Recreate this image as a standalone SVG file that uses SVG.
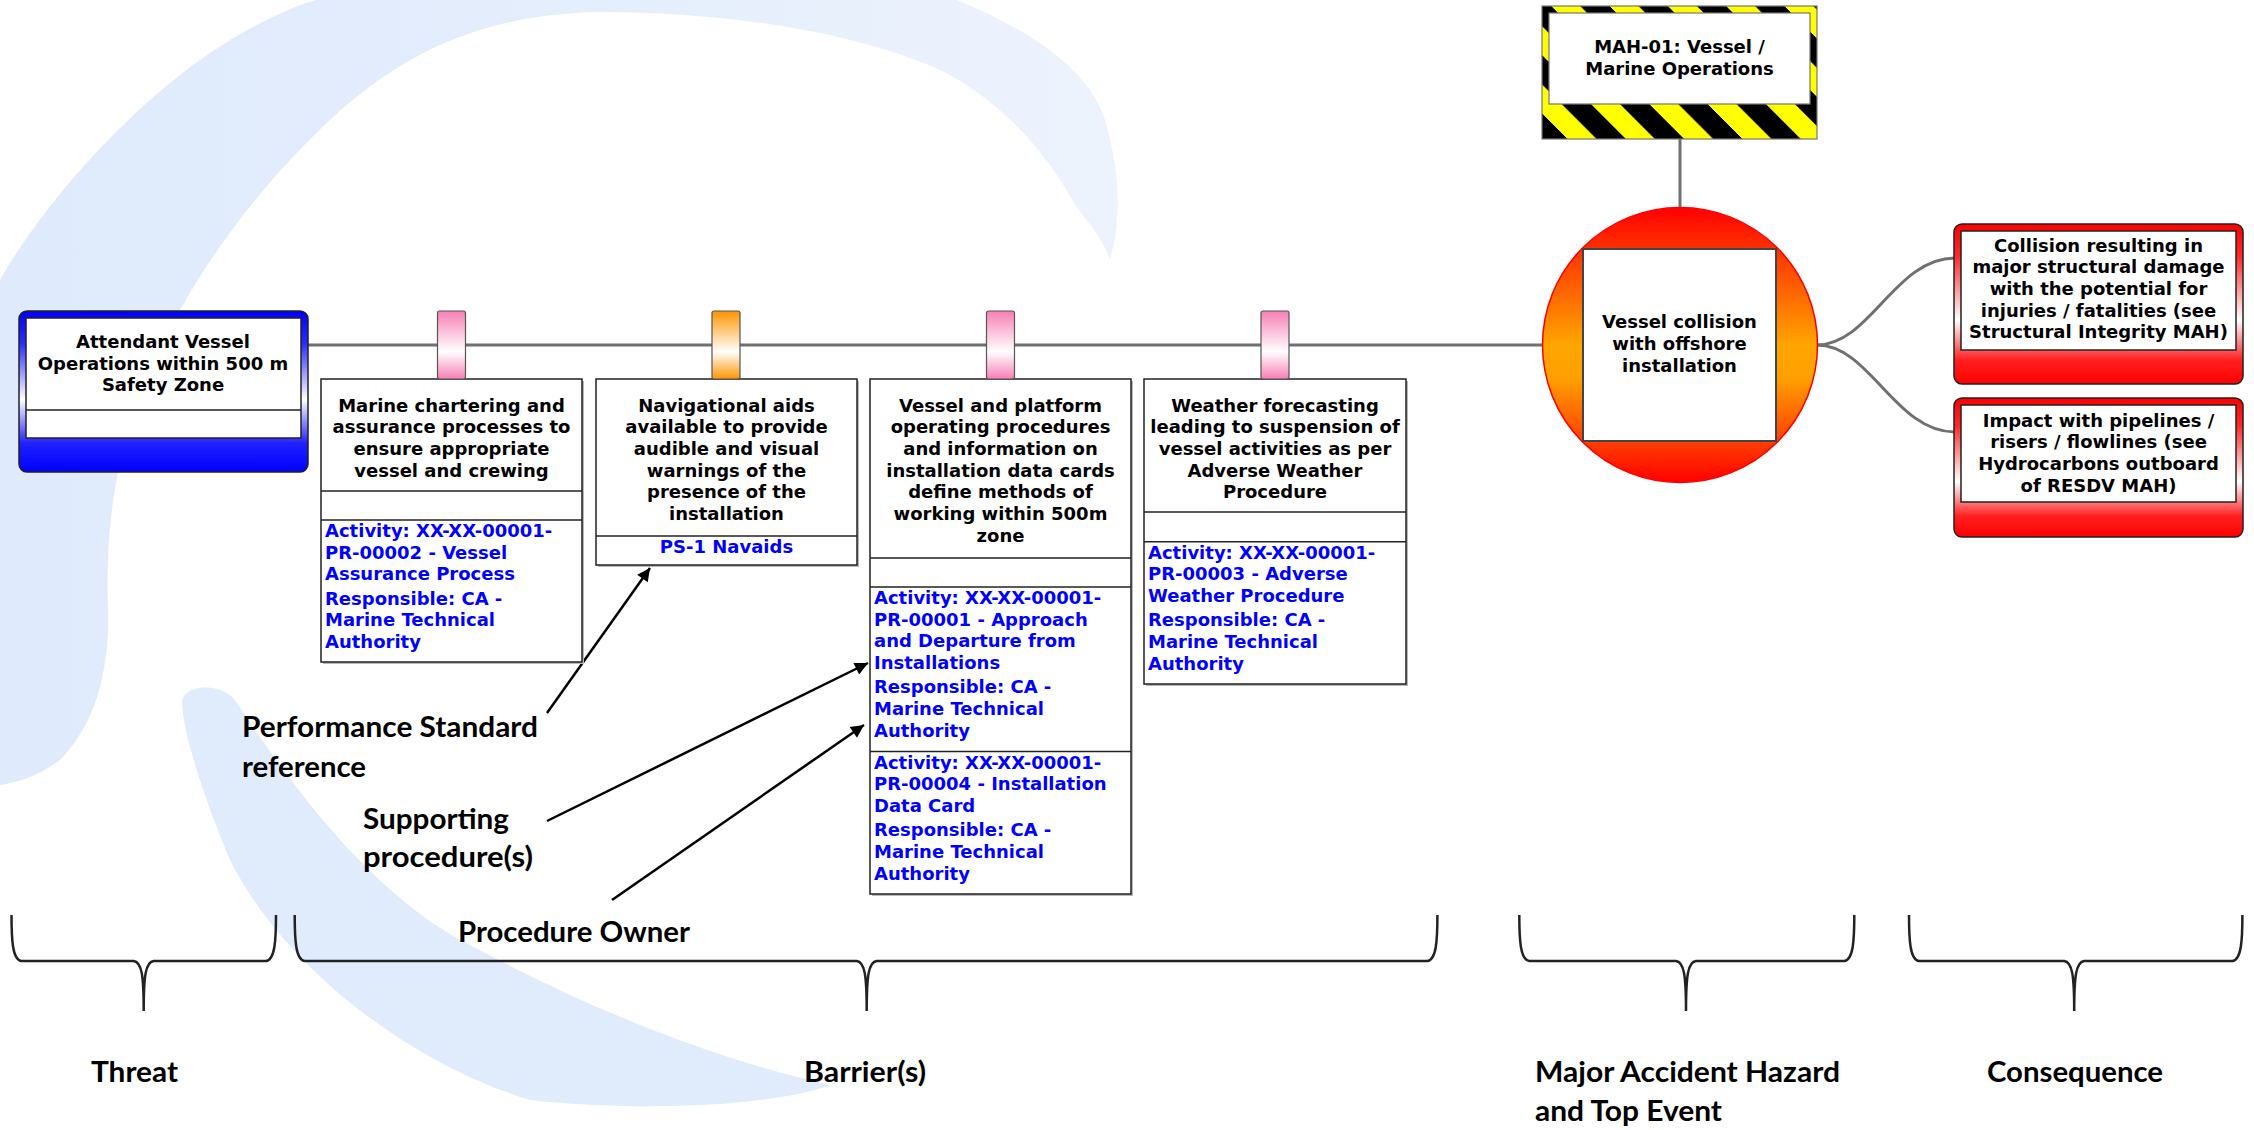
<svg xmlns="http://www.w3.org/2000/svg" width="2254" height="1130" viewBox="0 0 2254 1130">
<style>
.t{font-family:"DejaVu Sans",Verdana,sans-serif;font-weight:bold;font-size:18px;fill:#000;text-anchor:middle}
.b{font-family:"DejaVu Sans",Verdana,sans-serif;font-weight:bold;font-size:18px;fill:#0000ff}
.lbl{font-family:Lato,"Liberation Sans",sans-serif;font-weight:bold;font-size:29px;fill:#000}
.box{fill:#fff;stroke:#222;stroke-width:1.5}
.shadow{fill:#b8b8b8}
.conn{stroke:#707070;stroke-width:3;fill:none}
.arrow{stroke:#000;stroke-width:2.5;fill:none;marker-end:url(#ah)}
.brace{stroke:#222;stroke-width:2.5;fill:none}
.tag{stroke:#555;stroke-width:1.2}
</style>
<defs>
<linearGradient id="gBlue" x1="0" y1="0" x2="0" y2="1">
<stop offset="0" stop-color="#0000ff"/><stop offset="0.2" stop-color="#2a2aff"/><stop offset="0.55" stop-color="#ffffff"/><stop offset="0.82" stop-color="#2020ff"/><stop offset="1" stop-color="#0000ff"/>
</linearGradient>
<linearGradient id="gRed" x1="0" y1="0" x2="0" y2="1">
<stop offset="0" stop-color="#ff0000"/><stop offset="0.2" stop-color="#ff2a2a"/><stop offset="0.6" stop-color="#ffffff"/><stop offset="0.85" stop-color="#ff2020"/><stop offset="1" stop-color="#ff0000"/>
</linearGradient>
<linearGradient id="gPink" x1="0" y1="0" x2="0" y2="1">
<stop offset="0" stop-color="#f77fb5"/><stop offset="0.6" stop-color="#ffffff"/><stop offset="1" stop-color="#f77fb5"/>
</linearGradient>
<linearGradient id="gOrange" x1="0" y1="0" x2="0" y2="1">
<stop offset="0" stop-color="#ff9400"/><stop offset="0.6" stop-color="#ffffff"/><stop offset="1" stop-color="#ff9400"/>
</linearGradient>
<linearGradient id="gTop" x1="0" y1="0" x2="0" y2="1">
<stop offset="0" stop-color="#ff0000"/><stop offset="0.5" stop-color="#ffa500"/><stop offset="0.62" stop-color="#ffa000"/><stop offset="1" stop-color="#ff0000"/>
</linearGradient>
<linearGradient id="gWm" gradientUnits="userSpaceOnUse" x1="0" y1="0" x2="1120" y2="0">
<stop offset="0" stop-color="#dfeafc"/><stop offset="0.45" stop-color="#e3edfc"/><stop offset="1" stop-color="#edf3fd"/>
</linearGradient>
<pattern id="hz" patternUnits="userSpaceOnUse" x="29.4" y="0" width="58.3" height="20" patternTransform="skewX(45)">
<rect width="58.3" height="20" fill="#000"/><rect width="29" height="20" fill="#ffff00"/>
</pattern>
<marker id="ah" viewBox="0 0 10 10" refX="10" refY="5" markerUnits="userSpaceOnUse" markerWidth="19" markerHeight="13" orient="auto">
<path d="M0,0 L10,5 L0,10 z" fill="#000"/>
</marker>
</defs>

<rect width="2254" height="1130" fill="#fff"/>

<g id="watermark">
<path fill="url(#gWm)" d="M0,280 C40,210 110,130 180,75 C225,40 275,12 316,0 L957,0 C1030,30 1090,70 1105,120 C1120,170 1122,220 1110,259 C1100,235 1090,225 1075,205 C1040,140 990,95 940,70 C850,30 720,12 600,12 C480,14 400,55 330,120 C250,195 190,280 150,370 C115,450 105,530 108,610 C110,680 90,730 60,760 C40,775 20,782 0,785 Z"/>
<path fill="#e0ebfc" d="M200,688 C215,686 228,692 235,700 C300,800 380,900 470,945 C600,1015 720,1060 830,1085 C760,1110 620,1110 530,1100 C400,1060 280,960 230,860 C205,800 185,740 182,705 C181,695 190,689 200,688 Z"/>
</g>

<g id="connectors">
<line class="conn" x1="308" y1="345" x2="1543" y2="345"/>
<line class="conn" x1="1680" y1="139" x2="1680" y2="207"/>
<path class="conn" d="M1817,345 C1870,345 1895,258 1955,258"/>
<path class="conn" d="M1817,345 C1870,345 1895,432 1955,432"/>
<line class="arrow" x1="547" y1="713" x2="650" y2="568"/>
<line class="arrow" x1="547" y1="821" x2="868" y2="663"/>
<line class="arrow" x1="612" y1="900" x2="864" y2="725"/>
</g>

<g id="threat">
<rect x="19" y="311" width="289" height="161" rx="8" fill="url(#gBlue)" stroke="#222" stroke-width="1.5"/>
<rect x="26" y="318" width="275" height="120" fill="#fff" stroke="#222" stroke-width="1.5"/>
<line x1="26" y1="410" x2="301" y2="410" stroke="#222" stroke-width="1.5"/>
<text class="t" x="163" y="348">Attendant Vessel</text>
<text class="t" x="163" y="369.5">Operations within 500 m</text>
<text class="t" x="163" y="391">Safety Zone</text>
</g>

<g id="barrier1">
<rect class="shadow" x="323" y="381" width="261" height="283"/>
<rect class="box" x="321" y="379" width="261" height="283"/>
<line x1="321" y1="491" x2="582" y2="491" stroke="#222" stroke-width="1.5"/>
<line x1="321" y1="520" x2="582" y2="520" stroke="#222" stroke-width="1.5"/>
<rect class="tag" x="437.5" y="311" width="28" height="68" rx="2" fill="url(#gPink)"/>
<text class="t" x="451.5" y="411.5">Marine chartering and</text>
<text class="t" x="451.5" y="433.2">assurance processes to</text>
<text class="t" x="451.5" y="454.9">ensure appropriate</text>
<text class="t" x="451.5" y="476.6">vessel and crewing</text>
<text class="b" x="325" y="537">Activity: XX-XX-00001-</text>
<text class="b" x="325" y="558.7">PR-00002 - Vessel</text>
<text class="b" x="325" y="580.4">Assurance Process</text>
<text class="b" x="325" y="604.7">Responsible: CA -</text>
<text class="b" x="325" y="626.4">Marine Technical</text>
<text class="b" x="325" y="648.1">Authority</text>
</g>

<g id="barrier2">
<rect class="shadow" x="598" y="381" width="261" height="186"/>
<rect class="box" x="596" y="379" width="261" height="186"/>
<line x1="596" y1="536" x2="857" y2="536" stroke="#222" stroke-width="1.5"/>
<rect class="tag" x="712" y="311" width="28" height="68" rx="2" fill="url(#gOrange)"/>
<text class="t" x="726.5" y="411.5">Navigational aids</text>
<text class="t" x="726.5" y="433.2">available to provide</text>
<text class="t" x="726.5" y="454.9">audible and visual</text>
<text class="t" x="726.5" y="476.6">warnings of the</text>
<text class="t" x="726.5" y="498.3">presence of the</text>
<text class="t" x="726.5" y="520">installation</text>
<text class="b" x="726.5" y="553" text-anchor="middle">PS-1 Navaids</text>
</g>

<g id="barrier3">
<rect class="shadow" x="872" y="381" width="261" height="515"/>
<rect class="box" x="870" y="379" width="261" height="515"/>
<line x1="870" y1="558" x2="1131" y2="558" stroke="#222" stroke-width="1.5"/>
<line x1="870" y1="587" x2="1131" y2="587" stroke="#222" stroke-width="1.5"/>
<line x1="870" y1="751.5" x2="1131" y2="751.5" stroke="#222" stroke-width="1.5"/>
<rect class="tag" x="986.5" y="311" width="28" height="68" rx="2" fill="url(#gPink)"/>
<text class="t" x="1000.5" y="411.5">Vessel and platform</text>
<text class="t" x="1000.5" y="433.2">operating procedures</text>
<text class="t" x="1000.5" y="454.9">and information on</text>
<text class="t" x="1000.5" y="476.6">installation data cards</text>
<text class="t" x="1000.5" y="498.3">define methods of</text>
<text class="t" x="1000.5" y="520">working within 500m</text>
<text class="t" x="1000.5" y="541.7">zone</text>
<text class="b" x="874" y="604">Activity: XX-XX-00001-</text>
<text class="b" x="874" y="625.7">PR-00001 - Approach</text>
<text class="b" x="874" y="647.4">and Departure from</text>
<text class="b" x="874" y="669.1">Installations</text>
<text class="b" x="874" y="693.4">Responsible: CA -</text>
<text class="b" x="874" y="715.1">Marine Technical</text>
<text class="b" x="874" y="736.8">Authority</text>
<text class="b" x="874" y="768.5">Activity: XX-XX-00001-</text>
<text class="b" x="874" y="790.2">PR-00004 - Installation</text>
<text class="b" x="874" y="811.9">Data Card</text>
<text class="b" x="874" y="836.2">Responsible: CA -</text>
<text class="b" x="874" y="857.9">Marine Technical</text>
<text class="b" x="874" y="879.6">Authority</text>
</g>

<g id="barrier4">
<rect class="shadow" x="1146" y="381" width="262" height="305"/>
<rect class="box" x="1144" y="379" width="262" height="305"/>
<line x1="1144" y1="512" x2="1406" y2="512" stroke="#222" stroke-width="1.5"/>
<line x1="1144" y1="541.7" x2="1406" y2="541.7" stroke="#222" stroke-width="1.5"/>
<rect class="tag" x="1261" y="311" width="28" height="68" rx="2" fill="url(#gPink)"/>
<text class="t" x="1275" y="411.5">Weather forecasting</text>
<text class="t" x="1275" y="433.2">leading to suspension of</text>
<text class="t" x="1275" y="454.9">vessel activities as per</text>
<text class="t" x="1275" y="476.6">Adverse Weather</text>
<text class="t" x="1275" y="498.3">Procedure</text>
<text class="b" x="1148" y="558.7">Activity: XX-XX-00001-</text>
<text class="b" x="1148" y="580.4">PR-00003 - Adverse</text>
<text class="b" x="1148" y="602.1">Weather Procedure</text>
<text class="b" x="1148" y="626.4">Responsible: CA -</text>
<text class="b" x="1148" y="648.1">Marine Technical</text>
<text class="b" x="1148" y="669.8">Authority</text>
</g>

<g id="hazard">
<rect x="1542" y="6" width="275" height="133" fill="url(#hz)" stroke="#777" stroke-width="1.2"/>
<rect x="1549" y="13" width="261" height="91" fill="#fff" stroke="#777" stroke-width="1.2"/>
<text class="t" x="1679.5" y="53.3">MAH-01: Vessel /</text>
<text class="t" x="1679.5" y="75">Marine Operations</text>
</g>

<g id="top-event">
<circle cx="1680" cy="345" r="137.5" fill="url(#gTop)" stroke="#ff0000" stroke-width="1.5"/>
<rect x="1583" y="249" width="193" height="192" fill="#fff" stroke="#444" stroke-width="2"/>
<text class="t" x="1679.5" y="328">Vessel collision</text>
<text class="t" x="1679.5" y="350">with offshore</text>
<text class="t" x="1679.5" y="371.7">installation</text>
</g>

<g id="consequence1">
<rect x="1954" y="224" width="289" height="160" rx="8" fill="url(#gRed)" stroke="#222" stroke-width="1.5"/>
<rect x="1961" y="231" width="275" height="119" fill="#fff" stroke="#222" stroke-width="1.5"/>
<text class="t" x="2098.5" y="251.7">Collision resulting in</text>
<text class="t" x="2098.5" y="273.3">major structural damage</text>
<text class="t" x="2098.5" y="295">with the potential for</text>
<text class="t" x="2098.5" y="316.7">injuries / fatalities (see</text>
<text class="t" x="2098.5" y="338.3">Structural Integrity MAH)</text>
</g>

<g id="consequence2">
<rect x="1954" y="398" width="289" height="139" rx="8" fill="url(#gRed)" stroke="#222" stroke-width="1.5"/>
<rect x="1961" y="405" width="275" height="97" fill="#fff" stroke="#222" stroke-width="1.5"/>
<text class="t" x="2098.5" y="426.7">Impact with pipelines /</text>
<text class="t" x="2098.5" y="448.3">risers / flowlines (see</text>
<text class="t" x="2098.5" y="470">Hydrocarbons outboard</text>
<text class="t" x="2098.5" y="491.7">of RESDV MAH)</text>
</g>

<g id="annotations">
<text class="lbl" x="242" y="737" textLength="296" lengthAdjust="spacingAndGlyphs">Performance Standard</text>
<text class="lbl" x="242" y="777" textLength="124" lengthAdjust="spacingAndGlyphs">reference</text>
<text class="lbl" x="363" y="829" textLength="146" lengthAdjust="spacingAndGlyphs">Supporting</text>
<text class="lbl" x="363" y="867" textLength="170" lengthAdjust="spacingAndGlyphs">procedure(s)</text>
<text class="lbl" x="458" y="942" textLength="232" lengthAdjust="spacingAndGlyphs">Procedure Owner</text>
</g>

<g id="braces">
<path class="brace" d="M11.5,915 C11.5,940 12.5,960 21.5,961 L133.7,961 C141.7,962 143.7,975 143.7,1011 C143.7,975 145.7,962 153.7,961 L266,961 C275,960 276,940 276,915"/>
<path class="brace" d="M294.7,915 C294.7,940 295.7,960 304.7,961 L856.7,961 C864.7,962 866.7,975 866.7,1011 C866.7,975 868.7,962 876.7,961 L1427.4,961 C1436.4,960 1437.4,940 1437.4,915"/>
<path class="brace" d="M1519.3,915 C1519.3,940 1520.3,960 1529.3,961 L1676,961 C1684,962 1686,975 1686,1011 C1686,975 1688,962 1696,961 L1844.3,961 C1853.3,960 1854.3,940 1854.3,915"/>
<path class="brace" d="M1909,915 C1909,940 1910,960 1919,961 L2064.2,961 C2072.2,962 2074.2,975 2074.2,1011 C2074.2,975 2076.2,962 2084.2,961 L2232.4,961 C2241.4,960 2242.4,940 2242.4,915"/>
</g>

<g id="section-labels">
<text class="lbl" x="91" y="1082" textLength="87" lengthAdjust="spacingAndGlyphs">Threat</text>
<text class="lbl" x="804" y="1082" textLength="122" lengthAdjust="spacingAndGlyphs">Barrier(s)</text>
<text class="lbl" x="1535" y="1082" textLength="305" lengthAdjust="spacingAndGlyphs">Major Accident Hazard</text>
<text class="lbl" x="1535" y="1121" textLength="187" lengthAdjust="spacingAndGlyphs">and Top Event</text>
<text class="lbl" x="1987" y="1082" textLength="176" lengthAdjust="spacingAndGlyphs">Consequence</text>
</g>
</svg>
